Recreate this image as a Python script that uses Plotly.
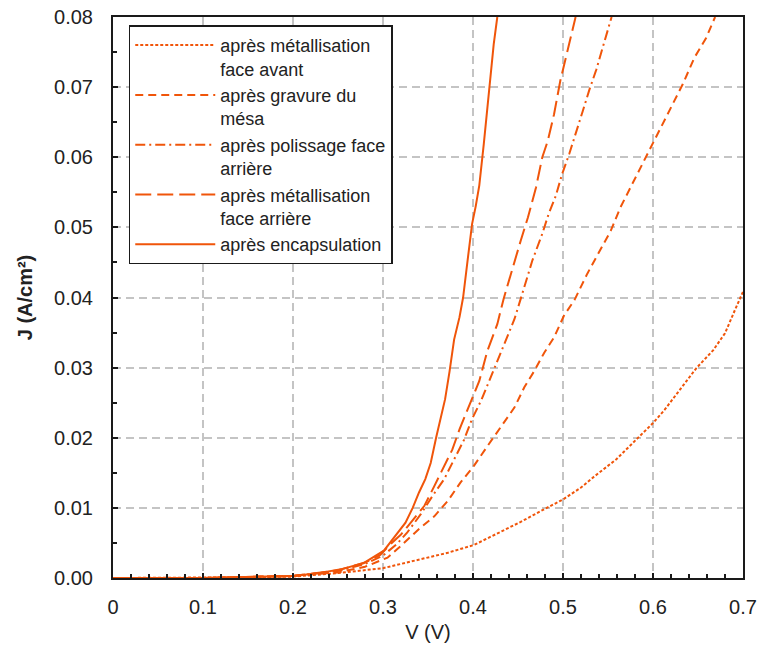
import plotly.graph_objects as go

# ---- data ----
v_face_avant = [0, 0.05, 0.1, 0.15, 0.2, 0.25, 0.3, 0.323, 0.342, 0.372, 0.401, 0.427, 0.453,
                0.479, 0.5, 0.52, 0.535, 0.559, 0.583, 0.6, 0.613, 0.63, 0.648, 0.667, 0.68, 0.691, 0.701]
j_face_avant = [0.0, 0.0, 0.0, 0.0001, 0.0002, 0.0007, 0.0014, 0.0021, 0.0027, 0.0036, 0.0047, 0.0063, 0.0080,
                0.0098, 0.0112, 0.0129, 0.0145, 0.0169, 0.0200, 0.0221, 0.0240, 0.0268, 0.0299, 0.0325, 0.0349, 0.0382, 0.0411]

v_mesa = [0, 0.1, 0.2, 0.25, 0.28, 0.305, 0.32, 0.34, 0.357, 0.372, 0.386, 0.401, 0.416, 0.429, 0.446, 0.457,
          0.468, 0.479, 0.49, 0.501, 0.513, 0.527, 0.542, 0.553, 0.564, 0.579, 0.59, 0.602, 0.62, 0.633, 0.646, 0.659, 0.669]
j_mesa = [0.0, 0.0, 0.0003, 0.0008, 0.0016, 0.0029, 0.0046, 0.0070, 0.0088, 0.0110, 0.0136, 0.0160, 0.0188, 0.0212, 0.0243, 0.0272,
          0.0295, 0.0321, 0.0343, 0.0374, 0.0397, 0.0434, 0.0469, 0.0495, 0.0529, 0.0567, 0.0595, 0.0624, 0.0671, 0.0704, 0.0742, 0.0770, 0.0800]

v_polissage = [0, 0.1, 0.2, 0.25, 0.28, 0.30, 0.315, 0.327, 0.342, 0.355, 0.368, 0.379, 0.39, 0.399, 0.409, 0.418,
               0.427, 0.437, 0.446, 0.453, 0.466, 0.477, 0.484, 0.492, 0.499, 0.507, 0.514, 0.522, 0.529, 0.537, 0.544, 0.554]
j_polissage = [0.0, 0.0, 0.0003, 0.0010, 0.0020, 0.0032, 0.0048, 0.0065, 0.0091, 0.0117, 0.0141, 0.0169, 0.0197, 0.0227, 0.0253, 0.0281,
               0.0310, 0.0340, 0.0369, 0.0398, 0.0453, 0.0491, 0.0519, 0.0545, 0.0576, 0.0605, 0.0635, 0.0666, 0.0695, 0.0725, 0.0756, 0.0800]

v_face_arriere = [0, 0.1, 0.2, 0.25, 0.28, 0.297, 0.308, 0.32, 0.334, 0.346, 0.357, 0.366, 0.377, 0.385, 0.398, 0.407,
                  0.416, 0.427, 0.434, 0.444, 0.453, 0.461, 0.47, 0.477, 0.483, 0.49, 0.497, 0.505, 0.514]
j_face_arriere = [0.0, 0.0, 0.0003, 0.0011, 0.0022, 0.0033, 0.0048, 0.0062, 0.0084, 0.0103, 0.0131, 0.0155, 0.0183, 0.0212, 0.0253, 0.0281,
                  0.0324, 0.0362, 0.0398, 0.0443, 0.0481, 0.0514, 0.0557, 0.0600, 0.0623, 0.0661, 0.0709, 0.0752, 0.0800]

v_encapsulation = [0, 0.1, 0.2, 0.23, 0.255, 0.278, 0.301, 0.314, 0.325, 0.333, 0.34, 0.347, 0.353, 0.359, 0.364, 0.369,
                   0.374, 0.379, 0.385, 0.389, 0.394, 0.399, 0.403, 0.407, 0.412, 0.416, 0.42, 0.423, 0.427]
j_encapsulation = [0.0, 0.0, 0.0003, 0.0007, 0.0013, 0.0021, 0.0039, 0.0060, 0.0079, 0.0100, 0.0122, 0.0141, 0.0164, 0.0200, 0.0228, 0.0255,
                   0.0295, 0.0340, 0.0372, 0.0400, 0.0453, 0.0505, 0.0530, 0.0560, 0.0619, 0.0671, 0.0723, 0.0761, 0.0800]

series_names = [
    "après métallisation<br>face avant",
    "après gravure du<br>mésa",
    "après polissage face<br>arrière",
    "après métallisation<br>face arrière",
    "après encapsulation",
]
x_tick_vals = [0, 0.1, 0.2, 0.3, 0.4, 0.5, 0.6, 0.7]
x_tick_text = ["0", "0.1", "0.2", "0.3", "0.4", "0.5", "0.6", "0.7"]
y_tick_vals = [0, 0.01, 0.02, 0.03, 0.04, 0.05, 0.06, 0.07, 0.08]
y_tick_text = ["0.00", "0.01", "0.02", "0.03", "0.04", "0.05", "0.06", "0.07", "0.08"]

# ---- styles ----
ORANGE = "#F0550A"
FONT = "Liberation Sans, Arial, sans-serif"
styles = [
    dict(dash="3px,2px", width=2),
    dict(dash="8px,5px", width=2),
    dict(dash="10px,4px,2px,4px", width=2),
    dict(dash="16px,6px", width=2),
    dict(dash="solid", width=2),
]
xs = [v_face_avant, v_mesa, v_polissage, v_face_arriere, v_encapsulation]
ys = [j_face_avant, j_mesa, j_polissage, j_face_arriere, j_encapsulation]

fig = go.Figure()
for name, x, y, st in zip(series_names, xs, ys, styles):
    fig.add_trace(go.Scatter(x=x, y=y, mode="lines", name=name,
                             line=dict(color=ORANGE, width=st["width"], dash=st["dash"])))

axis_common = dict(
    showline=True, linecolor="#1a1a1a", linewidth=2, mirror=True,
    showgrid=True, gridcolor="#C4C4C4", gridwidth=2, griddash="8px,5px",
    zeroline=False, ticks="inside", tickcolor="#1a1a1a", tickwidth=2, ticklen=5,
    tickfont=dict(family=FONT, size=20, color="#222222"),
    automargin=False,
)

fig.update_xaxes(
    range=[0, 0.7], tickmode="array", tickvals=x_tick_vals, ticktext=x_tick_text,
    minor=dict(dtick=0.02, ticks="inside", ticklen=4, tickwidth=2, tickcolor="#1a1a1a", showgrid=False),
    ticklabelstandoff=10,
    title=dict(text="V (V)", font=dict(family=FONT, size=20, color="#222222"), standoff=8),
    **axis_common,
)
fig.update_yaxes(
    range=[0, 0.08], tickmode="array", tickvals=y_tick_vals, ticktext=y_tick_text,
    minor=dict(dtick=0.005, ticks="inside", ticklen=4, tickwidth=2, tickcolor="#1a1a1a", showgrid=False),
    ticklabelstandoff=14,
    title=dict(text="<b>J (A/cm²)</b>", font=dict(family=FONT, size=20, color="#222222"), standoff=16),
    **axis_common,
)

fig.update_layout(
    width=758, height=653,
    margin=dict(l=113, r=15, t=17, b=75, autoexpand=False),
    paper_bgcolor="white", plot_bgcolor="white",
    showlegend=True,
    legend=dict(
        x=0.025, y=0.985, xanchor="left", yanchor="top",
        bgcolor="white", bordercolor="#1a1a1a", borderwidth=1.5,
        font=dict(family=FONT, size=18, color="#222222"),
        valign="top", tracegroupgap=0, itemwidth=80,
    ),
)

fig.write_html("out.html", config={"displayModeBar": False},
               post_script="document.body.style.margin='0';document.body.style.padding='0';")
